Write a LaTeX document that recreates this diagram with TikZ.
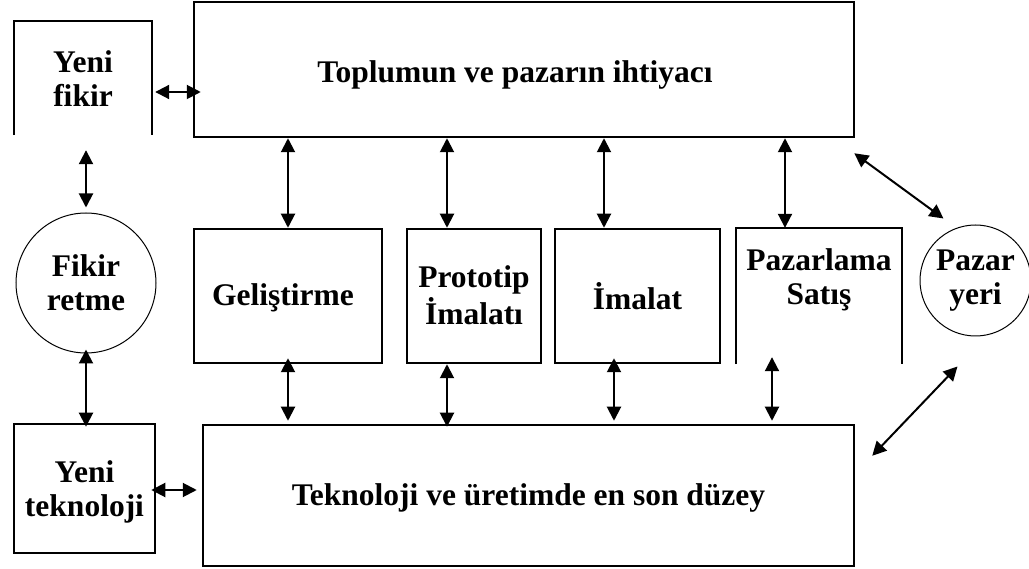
\documentclass[tikz,border=0pt]{standalone}
\usepackage{fontspec}
\setmainfont{Liberation Serif}
\usetikzlibrary{arrows.meta}
\newcommand\shifttxt[2]{\raisebox{#1}[\height][\depth]{\begin{tabular}{@{}c@{}}#2\end{tabular}}}
\tikzset{
  txt/.style={font=\fontsize{31.5}{34}\selectfont\bfseries, align=center, inner sep=0pt},
  boxnode/.style={txt, rectangle, draw, line width=2.5pt},
  openbox/.style={txt, rectangle},
  ringnode/.style={txt, circle, draw, line width=1pt},
  arr/.style={line width=2pt, {Triangle[length=14pt,width=14pt]}-{Triangle[length=14pt,width=14pt]}},
  sides/.style={line width=2.5pt}
}
\begin{document}
\begin{tikzpicture}[x=1pt,y=-1pt]
\useasboundingbox (0,0) rectangle (1029,569);
% boxes
\node[openbox, minimum width=138pt, minimum height=114pt] (yf) at (83,78) {\shifttxt{-5pt}{Yeni\\fikir}};
\draw[sides] (yf.south west) -- (yf.north west) -- (yf.north east) -- (yf.south east);
\node[boxnode, minimum width=660pt, minimum height=135pt] (top) at (524,69.5) {\shifttxt{-6pt}{Toplumun ve pazarın ihtiyacı\hspace*{18pt}}};
\node[ringnode, minimum size=140pt] (fr) at (86,283) {Fikir\\retme};
\node[boxnode, minimum width=141pt, minimum height=129pt] (yt) at (84.5,488.5) {\shifttxt{-4pt}{Yeni\\teknoloji}};
\node[boxnode, minimum width=651pt, minimum height=141pt] (bot) at (528.5,495.5) {\shifttxt{-3pt}{Teknoloji ve üretimde en son düzey}};
\node[boxnode, minimum width=188pt, minimum height=134pt] (gel) at (288,296) {\shifttxt{-3pt}{\hspace*{-10pt}Geliştirme}};
\node[boxnode, minimum width=134pt, minimum height=134pt] (pro) at (474,296) {\shifttxt{-3pt}{Prototip\\İmalatı}};
\node[boxnode, minimum width=165pt, minimum height=134pt] (ima) at (637.5,296) {İmalat};
\node[openbox, minimum width=166pt, minimum height=136pt] (paz) at (819,296) {\shifttxt{15pt}{Pazarlama\\Satış}};
\draw[sides] (paz.south west) -- (paz.north west) -- (paz.north east) -- (paz.south east);
\node[ringnode, minimum size=111pt] (py) at (975.5,280.5) {Pazar\\yeri};
% connectors
\draw[arr] ([xshift=3pt,yshift=-14pt]yf.east) -- ([xshift=8pt,yshift=-22.5pt]top.west);
\draw[arr] ([xshift=3pt,yshift=-15pt]yf.south) -- ([yshift=5pt]fr.north);
\draw[arr] ([yshift=4pt]fr.south) -- ([xshift=1.5pt,yshift=-4pt]yt.north);
\draw[arr] ([xshift=-5pt,yshift=-1.5pt]yt.east) -- ([xshift=-5pt,yshift=5.5pt]bot.west);
\draw[arr] ([xshift=-236pt]top.south) -- (gel.north);
\draw[arr] ([xshift=-77pt]top.south) -- ([xshift=-27pt]pro.north);
\draw[arr] ([xshift=80pt]top.south) -- ([xshift=-33.5pt]ima.north);
\draw[arr] ([xshift=261pt]top.south) -- ([xshift=-34pt]paz.north);
\draw[arr] ([yshift=6pt]gel.south) -- ([xshift=-240.5pt,yshift=3pt]bot.north);
\draw[arr] ([xshift=-27pt]pro.south) -- ([xshift=-81.5pt,yshift=-3pt]bot.north);
\draw[arr] ([xshift=-23.5pt,yshift=6pt]ima.south) -- ([xshift=85.5pt,yshift=3pt]bot.north);
\draw[arr] ([xshift=-47pt,yshift=7pt]paz.south) -- ([xshift=243.5pt,yshift=3pt]bot.north);
\draw[arr] ([xshift=-1pt,yshift=-15pt]top.south east) -- ([xshift=-32pt,yshift=62pt]py.center);
\draw[arr] ([xshift=17pt,yshift=-32pt]bot.north east) -- ([xshift=-18pt,yshift=-86pt]py.center);
\end{tikzpicture}
\end{document}
